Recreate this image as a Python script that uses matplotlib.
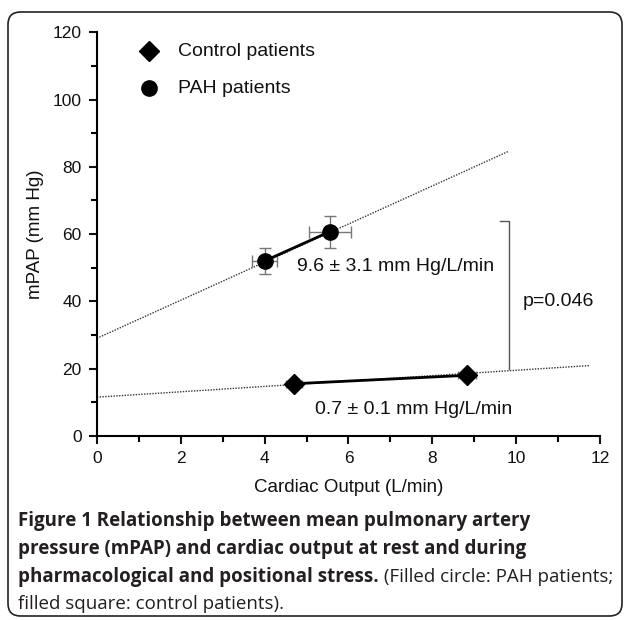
import matplotlib.pyplot as plt
from matplotlib.patches import FancyBboxPatch
from matplotlib.ticker import MultipleLocator

# PAH patients: rest and stress
pah_co = [4.0, 5.55]
pah_map = [52.0, 60.7]
pah_co_err = [0.3, 0.5]
pah_map_err = [4.0, 4.8]

# Control patients
ctl_co = [4.7, 8.83]
ctl_map = [15.5, 18.0]
ctl_co_err = [0.2, 0.22]
ctl_map_err = [0.8, 0.8]

# regression lines (dotted)
pah_fit_x = [0.0, 9.8]
pah_fit_y = [29.0, 84.5]
ctl_fit_x = [0.0, 11.75]
ctl_fit_y = [11.5, 20.9]

# p-value bracket
brk_x = [9.62, 9.83, 9.83]
brk_y = [63.8, 63.8, 20.0]

plt.rcParams['font.family'] = ['Liberation Sans', 'DejaVu Sans']
txt = '#111111'

fig = plt.figure(figsize=(6.29, 6.20), dpi=100)
ax = fig.add_axes([0.154, 0.297, 0.8, 0.651])

ax.plot(pah_fit_x, pah_fit_y, linestyle=(0, (1, 1)), color='#333333', lw=1.0)
ax.plot(ctl_fit_x, ctl_fit_y, linestyle=(0, (1, 1)), color='#333333', lw=1.0)

ax.errorbar(pah_co, pah_map, xerr=pah_co_err, yerr=pah_map_err, fmt='none',
            ecolor='#777777', elinewidth=1, capsize=4, zorder=2)
ax.errorbar(ctl_co, ctl_map, xerr=ctl_co_err, yerr=ctl_map_err, fmt='none',
            ecolor='#777777', elinewidth=1, capsize=3, zorder=2)
ax.plot(pah_co, pah_map, color='black', lw=2, marker='o', ms=11, zorder=3)
ax.plot(ctl_co, ctl_map, color='black', lw=2, marker='D', ms=10, zorder=3)

ax.plot(brk_x, brk_y, color='#555555', lw=1)

# legend drawn as markers + text
ax.plot([1.24], [114.3], marker='D', color='black', ms=10, clip_on=False)
ax.plot([1.24], [103.3], marker='o', color='black', ms=11, clip_on=False)
ax.text(1.93, 114.3, 'Control patients', fontsize=14, va='center', color=txt)
ax.text(1.93, 103.3, 'PAH patients', fontsize=14, va='center', color=txt)

ax.text(4.78, 50.4, '9.6 ± 3.1 mm Hg/L/min', fontsize=14, va='center', color=txt)
ax.text(5.2, 7.9, '0.7 ± 0.1 mm Hg/L/min', fontsize=14, va='center', color=txt)
ax.text(10.15, 39.8, 'p=0.046', fontsize=14, va='center', color=txt)

ax.set_xlim(0, 12)
ax.set_ylim(0, 120)
ax.xaxis.set_major_locator(MultipleLocator(2))
ax.xaxis.set_minor_locator(MultipleLocator(1))
ax.yaxis.set_major_locator(MultipleLocator(20))
ax.yaxis.set_minor_locator(MultipleLocator(10))
for s in ['top', 'right']:
    ax.spines[s].set_visible(False)
for s in ['left', 'bottom']:
    ax.spines[s].set_linewidth(1.5)
ax.tick_params(which='major', direction='out', length=6, width=1.5, labelsize=12.5,
               colors=txt, pad=5)
ax.tick_params(which='minor', direction='out', length=4, width=1.5)
ax.set_xlabel('Cardiac Output (L/min)', fontsize=13.5, color=txt, labelpad=9)
ax.set_ylabel('mPAP (mm Hg)', fontsize=13.5, color=txt, labelpad=6)

# caption
cap = '#231f20'
cf = ['Open Sans', 'DejaVu Sans']
fs = 13.5
x0 = 18 / 629
fig.text(x0, 1 - 526 / 620, 'Figure 1 Relationship between mean pulmonary artery',
         fontsize=fs, fontweight='bold', family=cf, color=cap, va='baseline')
fig.text(x0, 1 - 554 / 620, 'pressure (mPAP) and cardiac output at rest and during',
         fontsize=fs, fontweight='bold', family=cf, color=cap, va='baseline')
b3 = fig.text(x0, 1 - 582 / 620, 'pharmacological and positional stress.',
              fontsize=fs, fontweight='bold', family=cf, color=cap, va='baseline')
fig.draw_without_rendering()
bb = b3.get_window_extent()
fig.text(bb.x1 / fig.bbox.width, 1 - 582 / 620, ' (Filled circle: PAH patients;',
         fontsize=fs, family=cf, color=cap, va='baseline')
fig.text(x0, 1 - 609 / 620, 'filled square: control patients).',
         fontsize=fs, family=cf, color=cap, va='baseline')

frame = FancyBboxPatch((8 / 629, 4 / 620), 614 / 629, 604 / 620,
                       boxstyle='round,pad=0,rounding_size=0.02',
                       transform=fig.transFigure, fill=False, ec='#222222', lw=1.2)
fig.patches.append(frame)

fig.savefig('out.png', dpi=100)
